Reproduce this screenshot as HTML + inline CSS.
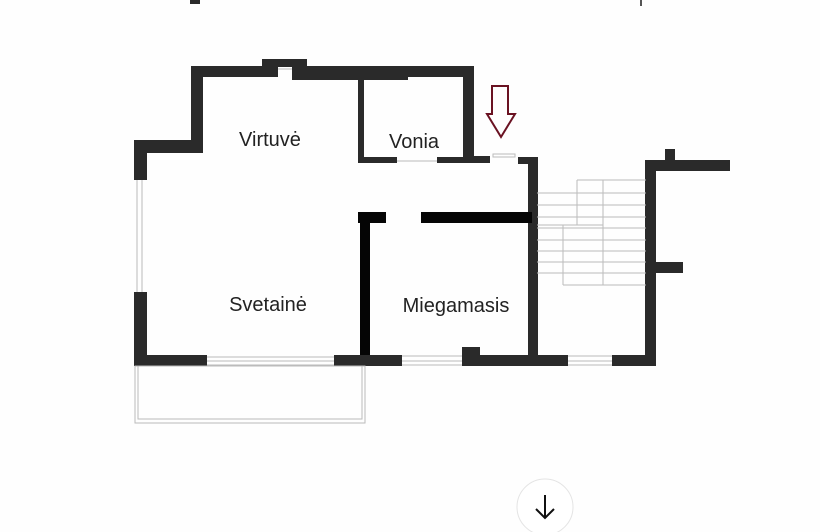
<!DOCTYPE html>
<html><head><style>
html,body{margin:0;padding:0;background:#fff;}
svg{display:block;}
text{font-family:"Liberation Sans","DejaVu Sans",sans-serif;font-size:20px;fill:#222;}
</style></head><body>
<svg width="820" height="532" viewBox="0 0 820 532" xmlns="http://www.w3.org/2000/svg">
<rect width="820" height="532" fill="#fefefe"/>
<rect x="190" y="0" width="10" height="4" fill="#2a2a2a"/>
<rect x="640" y="0" width="2" height="6" fill="#555"/>
<g fill="#2a2a2a">
<rect x="134" y="140" width="13" height="40"/>
<rect x="134" y="292" width="13" height="74"/>
<rect x="134" y="140" width="69" height="13"/>
<rect x="191" y="66" width="12" height="87"/>
<rect x="191" y="66" width="87" height="11"/>
<rect x="262" y="59" width="45" height="8"/>
<rect x="292" y="66" width="182" height="11"/>
<rect x="292" y="66" width="116" height="14"/>
<rect x="463" y="66" width="11" height="97"/>
<rect x="463" y="156" width="27" height="7"/>
<rect x="358" y="77" width="6" height="86"/>
<rect x="358" y="157" width="39" height="6"/>
<rect x="437" y="157" width="26" height="6"/>
<rect x="518" y="157" width="20" height="7"/>
<rect x="528" y="157" width="10" height="209"/>
<rect x="134" y="355" width="73" height="11"/>
<rect x="334" y="355" width="68" height="11"/>
<rect x="462" y="347" width="18" height="19"/>
<rect x="462" y="355" width="106" height="11"/>
<rect x="612" y="355" width="44" height="11"/>
<rect x="645" y="160" width="11" height="206"/>
<rect x="645" y="160" width="85" height="11"/>
<rect x="665" y="149" width="10" height="12"/>
<rect x="656" y="262" width="27" height="11"/>
</g>
<g fill="#050505">
<rect x="360" y="212" width="10" height="143"/>
<rect x="358" y="212" width="28" height="11"/>
<rect x="421" y="212" width="111" height="11"/>
</g>
<g stroke="#bbb" stroke-width="1" fill="none">
<line x1="137" y1="180" x2="137" y2="292"/><line x1="142" y1="180" x2="142" y2="292"/>
<line x1="207" y1="357" x2="334" y2="357"/><line x1="207" y1="361" x2="334" y2="361"/><line x1="207" y1="365" x2="334" y2="365"/>
<line x1="402" y1="356" x2="462" y2="356"/><line x1="402" y1="361" x2="462" y2="361"/><line x1="402" y1="365" x2="462" y2="365"/>
<line x1="568" y1="356" x2="612" y2="356"/><line x1="568" y1="361" x2="612" y2="361"/><line x1="568" y1="365" x2="612" y2="365"/>
<line x1="397" y1="161" x2="437" y2="161"/>
<line x1="278" y1="69" x2="292" y2="69"/>
<rect x="493" y="154" width="22" height="3"/>
<rect x="135" y="366" width="230" height="57"/><rect x="138" y="366" width="224" height="53"/>
<line x1="577" y1="180" x2="646" y2="180"/>
<line x1="537" y1="193" x2="646" y2="193"/>
<line x1="537" y1="205" x2="646" y2="205"/>
<line x1="537" y1="217" x2="646" y2="217"/>
<line x1="537" y1="225" x2="603" y2="225"/>
<line x1="537" y1="228" x2="646" y2="228"/>
<line x1="537" y1="240" x2="646" y2="240"/>
<line x1="537" y1="251" x2="646" y2="251"/>
<line x1="537" y1="262" x2="646" y2="262"/>
<line x1="537" y1="273" x2="646" y2="273"/>
<line x1="563" y1="285" x2="646" y2="285"/>
<line x1="577" y1="180" x2="577" y2="225"/>
<line x1="603" y1="180" x2="603" y2="285"/>
<line x1="563" y1="225" x2="563" y2="285"/>
</g>
<polygon points="492,86 508,86 508,114 515,114 501,137 487,114 492,114" fill="none" stroke="#6a1222" stroke-width="2"/>
<text x="270" y="146" text-anchor="middle">Virtuvė</text>
<text x="414" y="148" text-anchor="middle">Vonia</text>
<text x="268" y="311" text-anchor="middle">Svetainė</text>
<text x="456" y="312" text-anchor="middle">Miegamasis</text>
<circle cx="545" cy="507" r="28" fill="#fff" stroke="#e4e4e4" stroke-width="1"/>
<path d="M545 495 V518 M536 509 L545 518 L554 509" fill="none" stroke="#111" stroke-width="2"/>
</svg>
</body></html>
